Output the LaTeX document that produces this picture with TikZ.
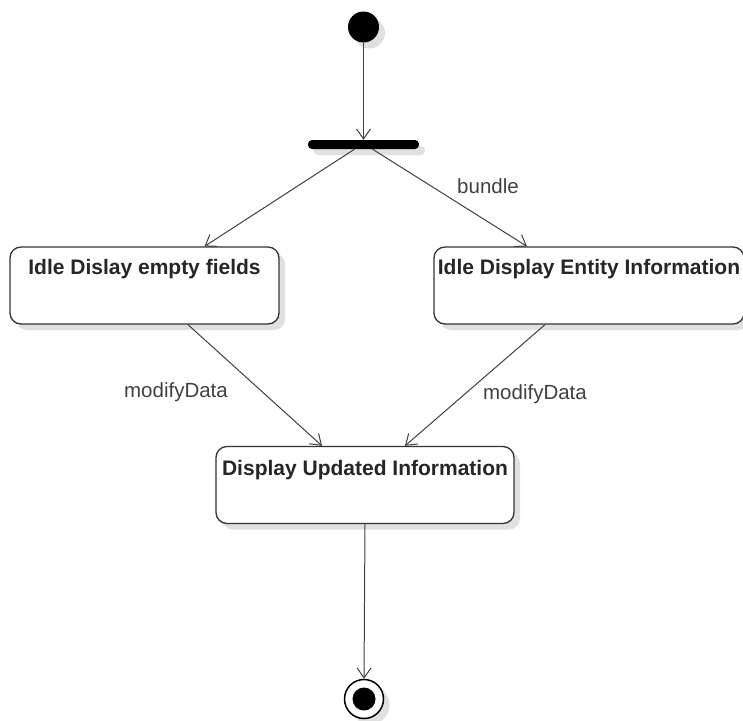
\documentclass[tikz,border=0pt]{standalone}
\usepackage{fontspec}
\setmainfont{Liberation Sans}
\usetikzlibrary{arrows.meta,shadows}
\begin{document}
\begin{tikzpicture}[x=1pt,y=-1pt,
  shd/.style={drop shadow={shadow xshift=6pt, shadow yshift=-6pt, fill=black!12, opacity=1}},
  statebox/.style={draw=black!80, line width=1.3pt, rounded corners=11pt, fill=white,
    minimum height=77pt, text height=15pt, text depth=37pt, inner sep=0pt,
    font=\bfseries\fontsize{21}{24}\selectfont, text=black!85, shd},
  flow/.style={draw=black!75, line width=1pt, -{Straight Barb[length=10pt,width=14pt,line width=1pt]}},
  lbl/.style={font=\fontsize{20.5}{24}\selectfont, text=black!75, inner sep=0pt}]
\useasboundingbox (0,0) rectangle (743,720);
\node[circle, fill=black, minimum size=31pt, inner sep=0pt, shd] (start) at (363.5,27) {};
\node[rectangle, fill=black, rounded corners=4pt, minimum width=111pt, minimum height=9pt, inner sep=0pt, shd] (bar) at (363.5,144.5) {};
\node[statebox, minimum width=269pt] (L) at (144.5,285.5) {Idle Dislay empty fields};
\node[statebox, minimum width=310pt] (R) at (589,285.5) {Idle Display Entity Information};
\node[statebox, minimum width=298pt, text depth=35pt] (U) at (365,485) {Display Updated Information};
\node[circle, draw=black, line width=1.5pt, fill=white, minimum size=39pt, inner sep=0pt, shd] (end) at (364,699) {};
\node[circle, fill=black, minimum size=23pt, inner sep=0pt] (endin) at (end.center) {};

\draw[flow] (start.south) -- (bar.north);
\draw[flow] ([xshift=-9pt]bar.south) -- ([xshift=60pt]L.north);
\draw[flow] ([xshift=9pt]bar.south) -- ([xshift=-62pt]R.north);
\draw[flow] ([xshift=43.5pt]L.south) -- ([xshift=-43pt]U.north);
\draw[flow] ([xshift=-44pt]R.south) -- ([xshift=40pt]U.north);
\draw[flow] (U.south) -- (end.north);

\node[lbl] (b1) at (488,186) {bundle};
\node[lbl] (m1) at (176,392) {modifyData};
\node[lbl] (m2) at (535,394) {modifyData};
\end{tikzpicture}
\end{document}
